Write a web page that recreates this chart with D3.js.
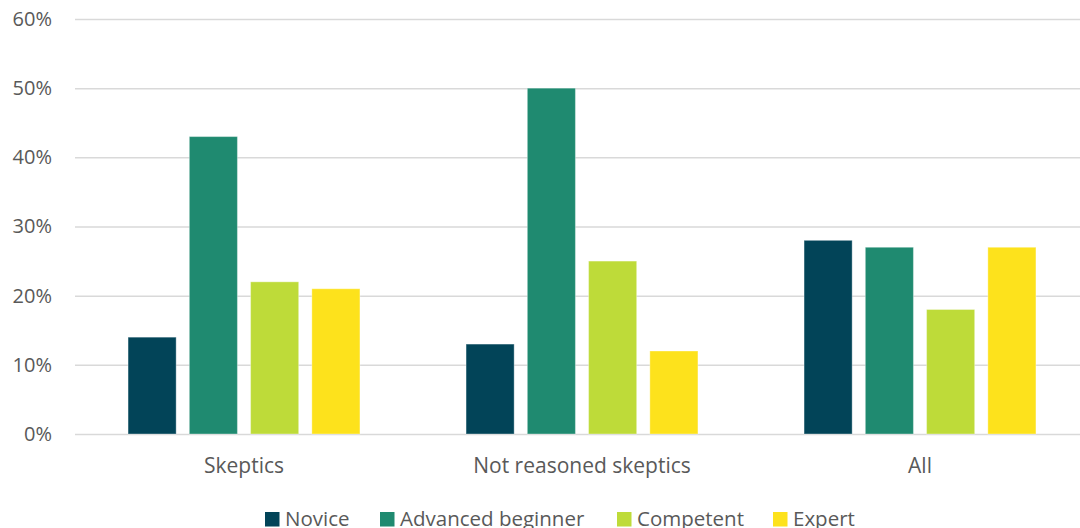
<!DOCTYPE html>
<html>
<head>
<meta charset="utf-8">
<script src="https://cdn.jsdelivr.net/npm/d3@7"></script>
<style>
  html, body { margin: 0; padding: 0; background: #fff; }
  svg { display: block; font-family: "Open Sans", sans-serif; }
</style>
</head>
<body>
<svg id="chart" width="1080" height="528"></svg>
<script>
// Groups along the x axis
const categories = ["Skeptics", "Not reasoned skeptics", "All"];
// Proficiency levels (one bar each per group)
const seriesNames = ["Novice", "Advanced beginner", "Competent", "Expert"];
const seriesColors = ["#024458", "#1f8a70", "#bedb39", "#fde21c"];
// Share of respondents (%) per level, in category order
const novice = [14, 13, 28];
const advancedBeginner = [43, 50, 27];
const competent = [22, 25, 18];
const expert = [21, 12, 27];
const yTicks = [0, 10, 20, 30, 40, 50, 60];

const seriesValues = [novice, advancedBeginner, competent, expert];
const rows = categories.map((c, i) => ({
  category: c,
  values: seriesNames.map((s, j) => ({ series: s, color: seriesColors[j], value: seriesValues[j][i] }))
}));

const svg = d3.select("#chart");
const plot = { left: 75, right: 1089, top: 19, bottom: 434 };
const textColor = "#595959";

const y = d3.scaleLinear().domain([0, 60]).range([plot.bottom, plot.top]);
const groupPad = 0.275;
const x0 = d3.scaleBand().domain(categories).range([plot.left, plot.right])
  .paddingInner(groupPad).paddingOuter(groupPad / 2);
const barPad = 0.215;
const x1 = d3.scaleBand().domain(seriesNames).range([0, x0.bandwidth()])
  .paddingInner(barPad).paddingOuter(barPad / 2);

// Horizontal gridlines with percentage labels
const yAxis = d3.axisLeft(y).tickValues(yTicks).tickFormat(d => d + "%")
  .tickSize(-(plot.right - plot.left)).tickPadding(23);
const gy = svg.append("g").attr("transform", `translate(${plot.left},0)`).call(yAxis);
gy.select(".domain").remove();
gy.selectAll(".tick line").attr("stroke", "#d9d9d9").attr("stroke-width", 1.5);
gy.selectAll(".tick text").attr("fill", textColor).style("font-size", "20px")
  .style("font-family", "'Open Sans', sans-serif");

// Bars
const groups = svg.append("g").selectAll("g").data(rows).join("g")
  .attr("transform", d => `translate(${x0(d.category)},0)`);
groups.selectAll("rect").data(d => d.values).join("rect")
  .attr("x", d => x1(d.series))
  .attr("y", d => y(d.value))
  .attr("width", x1.bandwidth())
  .attr("height", d => y(0) - y(d.value))
  .attr("fill", d => d.color)
  .attr("stroke", "#ffffff").attr("stroke-opacity", 0.35).attr("stroke-width", 1);

// Category labels
const xAxis = d3.axisBottom(x0).tickSize(0).tickPadding(24);
const gx = svg.append("g").attr("transform", `translate(0,${plot.bottom})`).call(xAxis);
gx.select(".domain").remove();
gx.selectAll(".tick text").attr("fill", textColor).style("font-size", "21px")
  .style("font-family", "'Open Sans', sans-serif");

// Legend
const legendX = [265, 380, 617, 773];
const legend = svg.append("g").selectAll("g").data(seriesNames).join("g")
  .attr("transform", (d, i) => `translate(${legendX[i]},512)`);
legend.append("rect").attr("width", 14.5).attr("height", 14.5)
  .attr("fill", (d, i) => seriesColors[i]);
legend.append("text").attr("x", 20).attr("y", 14)
  .attr("fill", textColor).style("font-size", "20.5px").text(d => d);
</script>
</body>
</html>
